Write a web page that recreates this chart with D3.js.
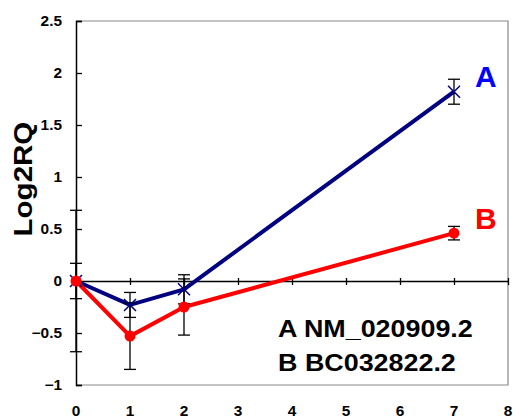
<!DOCTYPE html>
<html lang="en">

<head>
    <meta charset="UTF-8">
    <title>Log2RQ</title>
    <script src="https://d3js.org/d3.v7.min.js"></script>
    <style>
        body { margin: 0; background: #fff; }
        text { font-family: Arial, "Liberation Sans", sans-serif; font-weight: bold; }
    </style>
</head>

<body>

    <svg class="svgs" height="416" width="513"></svg>

    <script>
        // data
        const days = [0, 1, 2, 7]
        const valuesA = [0, -0.23, -0.08, 1.82]
        const errorsA = [0.17, 0.12, 0.14, 0.12]
        const valuesB = [0, -0.53, -0.25, 0.46]
        const errorsB = [0.68, 0.32, 0.27, 0.065]
        const xTicks = [0, 1, 2, 3, 4, 5, 6, 7, 8]
        const yTicks = [-1, -0.5, 0, 0.5, 1, 1.5, 2, 2.5]
        const legendLines = ['A NM_020909.2', 'B BC032822.2']

        const svg = d3.select('.svgs')
        const margin = { top: 21, right: 5, bottom: 31, left: 76 }
        const innerWidth = +svg.attr('width') - margin.left - margin.right
        const innerHeight = +svg.attr('height') - margin.top - margin.bottom

        const xScale = d3.scaleLinear().domain([0, 8]).range([0, innerWidth])
        const yScale = d3.scaleLinear().domain([-1, 2.5]).range([innerHeight, 0])

        // the original text is a bit wider than Arial, stretch it
        const stretch = function (sel, k) {
            sel.each(function () {
                const w = this.getComputedTextLength()
                d3.select(this).attr('textLength', w * k).attr('lengthAdjust', 'spacingAndGlyphs')
            })
        }

        const g = svg.append('g')
            .attr('transform', `translate(${margin.left},${margin.top})`)

        // frame
        g.append('path')
            .attr('d', `M0,0H${innerWidth}V${innerHeight}H0`)
            .attr('fill', 'none')
            .attr('stroke', '#888')
            .attr('stroke-width', 1.2)

        // y axis
        const yAxis = g.append('g')
            .call(d3.axisRight(yScale).tickValues(yTicks).tickSize(6))
        yAxis.selectAll('text').remove()
        yAxis.select('.domain').attr('stroke', '#000').attr('stroke-width', 1.5)
        yAxis.selectAll('line').attr('stroke', '#000').attr('stroke-width', 1.3)
        g.selectAll('.ylab')
            .data(yTicks)
            .enter()
            .append('text')
            .attr('x', -14)
            .attr('y', d => yScale(d))
            .attr('dy', '0.35em')
            .attr('text-anchor', 'end')
            .attr('font-size', 14)
            .text(d => d3.format('')(d))
            .call(stretch, 1.1)

        // x axis at zero
        const xAxis = g.append('g')
            .attr('transform', `translate(0,${yScale(0)})`)
            .call(d3.axisBottom(xScale).tickValues(xTicks).tickSizeInner(4).tickSizeOuter(0))
        xAxis.selectAll('text').remove()
        xAxis.select('.domain').attr('stroke', '#000').attr('stroke-width', 1.3)
        xAxis.selectAll('.tick line').attr('y1', -3).attr('stroke', '#000').attr('stroke-width', 1.3)
        // labels sit at the very bottom edge, as in the original
        g.selectAll('.xlab')
            .data(xTicks)
            .enter()
            .append('text')
            .attr('x', d => xScale(d))
            .attr('y', innerHeight + 30.5)
            .attr('text-anchor', 'middle')
            .attr('font-size', 14)
            .text(d => d)
            .call(stretch, 1.1)

        // axis title
        g.append('text')
            .attr('transform', `translate(${-44},${yScale(0.98)}) rotate(-90)`)
            .attr('text-anchor', 'middle')
            .attr('font-size', 25)
            .text('Log2RQ')
            .call(stretch, 1.18)

        const series = [
            { name: 'A', values: valuesA, errors: errorsA, color: '#000080', label: '#0000ff' },
            { name: 'B', values: valuesB, errors: errorsB, color: '#ff0000', label: '#ff0000' }
        ]

        const line = d3.line().x(d => xScale(d.x)).y(d => yScale(d.y))

        series.forEach(s => {
            const pts = days.map((x, i) => ({ x: x, y: s.values[i], e: s.errors[i] }))
            g.append('path')
                .datum(pts)
                .attr('d', line)
                .attr('fill', 'none')
                .attr('stroke', s.color)
                .attr('stroke-width', 4)
                .attr('stroke-linejoin', 'round')
            s.pts = pts
        })

        // error bars
        series.forEach(s => {
            const eb = g.append('g').selectAll('g')
                .data(s.pts)
                .enter()
                .append('g')
                .attr('stroke', '#000')
                .attr('stroke-width', 1.3)
            eb.append('line')
                .attr('x1', d => xScale(d.x)).attr('x2', d => xScale(d.x))
                .attr('y1', d => yScale(d.y + d.e)).attr('y2', d => yScale(d.y - d.e))
            eb.append('line')
                .attr('x1', d => xScale(d.x) - 6).attr('x2', d => xScale(d.x) + 6)
                .attr('y1', d => yScale(d.y + d.e)).attr('y2', d => yScale(d.y + d.e))
            eb.append('line')
                .attr('x1', d => xScale(d.x) - 6).attr('x2', d => xScale(d.x) + 6)
                .attr('y1', d => yScale(d.y - d.e)).attr('y2', d => yScale(d.y - d.e))
        })

        // markers
        g.append('g').selectAll('path')
            .data(series[0].pts)
            .enter()
            .append('path')
            .attr('d', d => {
                const x = xScale(d.x), y = yScale(d.y), r = 6
                return `M${x - r},${y - r}L${x + r},${y + r}M${x - r},${y + r}L${x + r},${y - r}`
            })
            .attr('stroke', series[0].color)
            .attr('stroke-width', 1.5)

        g.append('g').selectAll('circle')
            .data(series[1].pts)
            .enter()
            .append('circle')
            .attr('cx', d => xScale(d.x))
            .attr('cy', d => yScale(d.y))
            .attr('r', 5.5)
            .attr('fill', series[1].color)

        // series letters
        series.forEach(s => {
            g.append('text')
                .attr('x', xScale(7) + 21)
                .attr('y', yScale(s.values[3]) + (s.name === 'A' ? -15 : -15))
                .attr('dy', '0.35em')
                .attr('fill', s.label)
                .attr('font-size', 30)
                .text(s.name)
        })

        // legend text
        g.selectAll('.leg')
            .data(legendLines)
            .enter()
            .append('text')
            .attr('x', 202)
            .attr('y', (d, i) => 316 + i * 34)
            .attr('font-size', 24)
            .text(d => d)
            .call(stretch, 1.12)
    </script>
</body>

</html>
